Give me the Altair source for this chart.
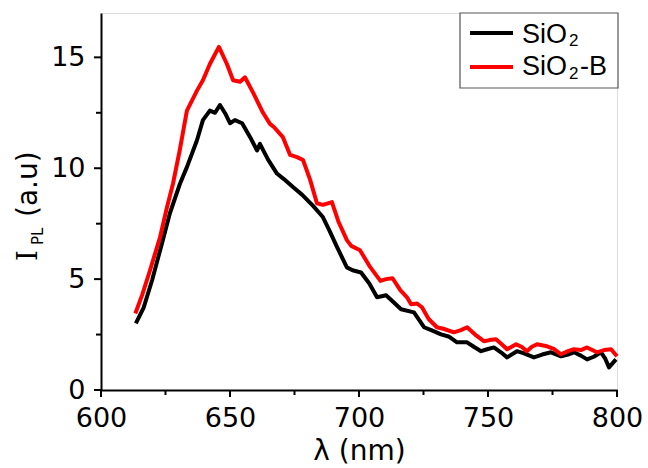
import altair as alt
import pandas as pd

# ---- data ----
wl_sio2 = [613.5, 616.5, 619.8, 623.6, 626.7, 630.6, 633.3, 637.2, 639.5, 642.2,
           644.2, 646.1, 648.1, 650.0, 651.9, 654.7, 657.8, 660.5, 661.6, 664.7,
           668.2, 671.0, 674.4, 678.0, 682.2, 686.0, 688.5, 691.5, 695.3, 697.5,
           700.8, 704.0, 707.0, 710.5, 713.0, 716.3, 721.3, 725.2, 728.0, 731.8,
           735.0, 738.0, 741.9, 744.5, 747.3, 750.0, 752.3, 755.0, 757.4, 761.2,
           764.0, 767.8, 771.0, 774.4, 778.3, 781.0, 783.3, 786.0, 788.4, 791.0,
           793.8, 795.5, 796.9, 799.6]
i_sio2 = [3.0, 3.7, 4.95, 6.6, 7.97, 9.3, 10.05, 11.26, 12.17, 12.6,
          12.5, 12.85, 12.48, 12.03, 12.17, 12.03, 11.4, 10.8, 11.1, 10.4,
          9.76, 9.5, 9.15, 8.8, 8.3, 7.8, 7.2, 6.44, 5.53, 5.4,
          5.3, 4.8, 4.18, 4.27, 4.0, 3.64, 3.5, 2.83, 2.7, 2.51,
          2.4, 2.15, 2.15, 1.95, 1.75, 1.85, 1.92, 1.7, 1.47, 1.75,
          1.65, 1.47, 1.6, 1.7, 1.52, 1.6, 1.7, 1.55, 1.38, 1.5,
          1.7, 1.4, 1.02, 1.38]

wl_siob = [613.3, 616.0, 619.0, 622.9, 625.6, 627.9, 630.5, 633.3, 637.2, 639.5,
           642.2, 645.7, 648.8, 651.2, 653.9, 655.8, 659.0, 662.8, 665.5, 667.0,
           670.5, 673.3, 676.0, 678.3, 681.0, 683.7, 686.0, 689.5, 692.0, 695.3,
           697.0, 700.4, 704.0, 708.3, 710.5, 713.0, 716.0, 718.6, 720.2, 722.5,
           724.4, 727.0, 730.2, 733.0, 736.8, 739.5, 741.9, 745.0, 748.4, 750.5,
           753.1, 755.0, 757.4, 760.9, 763.0, 765.1, 767.0, 769.0, 772.9, 775.5,
           778.3, 781.0, 783.3, 786.0, 788.4, 792.2, 795.0, 797.7, 800.0]
i_siob = [3.45, 4.3, 5.4, 6.9, 8.25, 9.3, 10.8, 12.6, 13.5, 13.97,
          14.7, 15.47, 14.7, 13.97, 13.9, 14.1, 13.4, 12.5, 12.0, 11.86,
          11.4, 10.6, 10.5, 10.37, 9.5, 8.42, 8.35, 8.47, 7.6, 6.76,
          6.5, 6.3, 5.6, 4.92, 5.0, 5.04, 4.5, 4.18, 3.87, 3.9,
          3.73, 3.2, 2.83, 2.75, 2.6, 2.7, 2.83, 2.5, 2.2, 2.25,
          2.29, 2.1, 1.84, 2.06, 1.95, 1.75, 1.95, 2.06, 1.97, 1.85,
          1.61, 1.75, 1.84, 1.8, 1.92, 1.7, 1.8, 1.84, 1.52]

series = ["SiO2", "SiO2-B"]
colors = ["#000000", "#ff0000"]
x_major = [600, 650, 700, 750, 800]
x_minor = [625, 675, 725, 775]
y_major = [0, 5, 10, 15]
y_minor = [2.5, 7.5, 12.5]

df = pd.concat([
    pd.DataFrame({"wl": wl_sio2, "I": i_sio2, "s": series[0]}),
    pd.DataFrame({"wl": wl_siob, "I": i_siob, "s": series[1]}),
])

W, H = 516, 377
SANS = "DejaVu Sans"
xscale = alt.Scale(domain=[600, 800], nice=False, zero=False)
yscale = alt.Scale(domain=[0, 17], nice=False)

lines = alt.Chart(df).mark_line(strokeWidth=4, strokeJoin="round").encode(
    x=alt.X("wl:Q", scale=xscale,
            axis=alt.Axis(values=x_major, orient="bottom",
                          title="λ (nm)", titleFont=SANS, titleFontSize=28,
                          titleFontWeight="normal", titleColor="black",
                          titlePadding=6,
                          labelFont=SANS, labelFontSize=27, labelColor="black",
                          labelPadding=15, labelFlush=False, labelOverlap=False,
                          ticks=False, domainColor="black", domainWidth=2,
                          grid=False)),
    y=alt.Y("I:Q", scale=yscale,
            axis=alt.Axis(values=y_major, orient="left", title=None,
                          labelFont=SANS, labelFontSize=27, labelColor="black",
                          labelPadding=16, labelFlush=False, labelOverlap=False,
                          ticks=False, domainColor="black", domainWidth=2,
                          grid=False)),
    color=alt.Color("s:N", scale=alt.Scale(domain=series, range=colors), legend=None),
)

# tick marks drawn through the shared scales
txmaj = pd.DataFrame({"v": x_major})
txmin = pd.DataFrame({"v": x_minor})
tymaj = pd.DataFrame({"v": y_major})
tymin = pd.DataFrame({"v": y_minor})

def xticks(d, ln):
    return alt.Chart(d).mark_rule(color="black", strokeWidth=2).encode(
        x=alt.X("v:Q", scale=xscale), y=alt.value(H), y2=alt.value(H + ln))

def yticks(d, ln):
    return alt.Chart(d).mark_rule(color="black", strokeWidth=2).encode(
        y=alt.Y("v:Q", scale=yscale), x=alt.value(0), x2=alt.value(-ln))

ticks = [xticks(txmaj, 7), xticks(txmin, 5), yticks(tymaj, 7), yticks(tymin, 5)]

one = pd.DataFrame({"k": [0]})

def txt(t, x, y, size, font=SANS, angle=0, color="black"):
    return alt.Chart(one).mark_text(
        text=t, font=font, fontSize=size, align="left", baseline="alphabetic",
        angle=angle, color=color
    ).encode(x=alt.value(x), y=alt.value(y))

# y-axis title: I_PL (a.u)
ytitle = [
    txt("I", -64, 248, 27, font="DejaVu Serif", angle=270),
    txt("PL", -58, 232, 15, angle=270),
    txt("(a.u)", -64, 204, 28, angle=270),
]

# legend
box = alt.Chart(one).mark_rect(fill="white", stroke="#555555", strokeWidth=1.2).encode(
    x=alt.value(359), x2=alt.value(517), y=alt.value(0), y2=alt.value(75))
sym1 = alt.Chart(one).mark_rule(color=colors[0], strokeWidth=4).encode(
    x=alt.value(369), x2=alt.value(412), y=alt.value(20))
sym2 = alt.Chart(one).mark_rule(color=colors[1], strokeWidth=4).encode(
    x=alt.value(369), x2=alt.value(412), y=alt.value(54))
LF = "Liberation Sans"
leg = [
    box, sym1, sym2,
    txt("SiO", 421, 30, 27, font=LF),
    txt("2", 468, 33, 17, font=LF),
    txt("SiO", 421, 62, 27, font=LF),
    txt("2", 468, 66, 17, font=LF),
    txt("-B", 479, 62, 27, font=LF),
]

chart = alt.layer(lines, *ticks, *ytitle, *leg).properties(
    width=W, height=H,
    autosize=alt.AutoSizeParams(type="none"),
    padding={"left": 101, "top": 13, "right": 31, "bottom": 78},
).configure_view(stroke=None).configure(background="white")

chart.save("out.html", embed_options={"renderer": "svg", "actions": False})
